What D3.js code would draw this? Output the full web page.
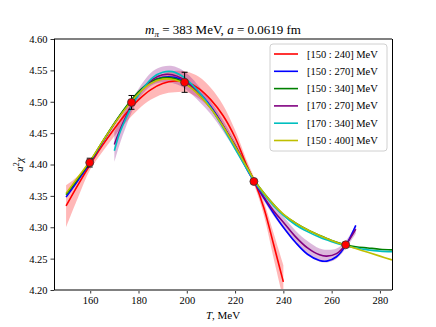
<!DOCTYPE html>
<html>
<head>
<meta charset="utf-8">
<script src="https://cdn.jsdelivr.net/npm/d3@7"></script>
<style>
  body { margin: 0; background: #fff; }
</style>
</head>
<body>
<div id="chart"></div>
<script>
const width = 436, height = 327;
const margin = {top: 39, right: 44, bottom: 37, left: 54};
const serif = "'Liberation Serif', 'Times New Roman', 'DejaVu Serif', serif";

// fit windows (legend labels)
const labels = ["[150 : 240] MeV", "[150 : 270] MeV", "[150 : 340] MeV", "[170 : 270] MeV", "[170 : 340] MeV", "[150 : 400] MeV"];
const colors = ["#ff0000", "#0000ff", "#008000", "#800080", "#00bfbf", "#bfbf00"];

// fit curves [T, a^2 chi]
const fit150_240 = [[150,4.334],[155,4.368],[160,4.400],[165,4.430],[170,4.457],[175,4.482],[180,4.503],[185,4.519],[190,4.529],[195,4.533],[200,4.531],[205,4.521],[210,4.503],[215,4.478],[220,4.443],[225,4.397],[228,4.373],[232,4.330],[236,4.272],[240,4.213]];
const fit150_270 = [[150,4.348],[155,4.375],[160,4.403],[165,4.435],[170,4.465],[175,4.492],[180,4.515],[185,4.531],[190,4.539],[195,4.539],[200,4.531],[205,4.515],[210,4.492],[215,4.462],[220,4.428],[225,4.392],[228,4.372],[232,4.346],[236,4.322],[240,4.300],[245,4.276],[250,4.257],[255,4.247],[258,4.246],[262,4.253],[266,4.272],[270,4.303]];
const fit150_340 = [[150,4.352],[155,4.378],[160,4.405],[165,4.436],[170,4.466],[175,4.493],[180,4.516],[185,4.532],[190,4.538],[195,4.537],[200,4.528],[205,4.512],[210,4.490],[215,4.461],[220,4.430],[225,4.395],[228,4.375],[232,4.354],[236,4.336],[240,4.320],[245,4.307],[250,4.296],[255,4.287],[260,4.279],[265,4.273],[270,4.269],[275,4.267],[280,4.265],[285,4.264]];
const fit170_270 = [[170,4.432],[172,4.452],[175,4.478],[178,4.500],[182,4.522],[186,4.536],[190,4.543],[194,4.543],[198,4.537],[202,4.525],[206,4.509],[210,4.490],[215,4.462],[220,4.430],[225,4.394],[228,4.373],[232,4.348],[236,4.326],[240,4.308],[245,4.285],[250,4.267],[255,4.256],[258,4.254],[262,4.258],[266,4.273],[270,4.297]];
const fit170_340 = [[170,4.422],[172,4.448],[175,4.475],[178,4.498],[182,4.522],[186,4.539],[190,4.547],[194,4.548],[198,4.541],[202,4.528],[206,4.511],[210,4.490],[215,4.459],[220,4.425],[225,4.392],[228,4.373],[232,4.352],[236,4.334],[240,4.319],[245,4.304],[250,4.293],[255,4.284],[260,4.277],[265,4.271],[270,4.267],[275,4.264],[280,4.262],[285,4.261]];
const fit150_400 = [[150,4.354],[155,4.380],[160,4.406],[165,4.436],[170,4.465],[175,4.491],[180,4.513],[185,4.529],[190,4.536],[195,4.535],[200,4.527],[205,4.511],[210,4.489],[215,4.461],[220,4.429],[225,4.395],[228,4.375],[232,4.354],[236,4.336],[240,4.321],[245,4.307],[250,4.296],[255,4.287],[260,4.279],[265,4.272],[270,4.266],[275,4.260],[280,4.254],[285,4.248]];

// error bands [T, low, high]
const band150_240 = [[150,4.300,4.367],[155,4.348,4.382],[160,4.392,4.408],[165,4.420,4.438],[170,4.445,4.466],[175,4.468,4.492],[180,4.488,4.515],[185,4.503,4.532],[190,4.512,4.544],[195,4.515,4.549],[200,4.515,4.548],[205,4.505,4.540],[210,4.488,4.522],[215,4.464,4.495],[220,4.432,4.455],[225,4.390,4.405],[228,4.366,4.378],[232,4.318,4.340],[236,4.250,4.290],[240,4.185,4.240]];
const band170_270 = [[170,4.404,4.452],[172,4.430,4.468],[175,4.462,4.490],[178,4.490,4.508],[182,4.514,4.532],[186,4.527,4.549],[190,4.531,4.556],[194,4.530,4.557],[198,4.524,4.551],[202,4.512,4.538],[206,4.497,4.520],[210,4.480,4.500],[215,4.453,4.471],[220,4.423,4.437],[225,4.389,4.399],[228,4.369,4.377],[232,4.342,4.354],[236,4.318,4.334],[240,4.298,4.317],[245,4.274,4.295],[250,4.257,4.278],[255,4.245,4.266],[258,4.244,4.264],[262,4.250,4.266],[266,4.267,4.279],[270,4.290,4.304]];

// lattice points
const pointT = [159.8, 177.1, 199.1, 227.8, 265.8];
const pointV = [4.403, 4.499, 4.531, 4.373, 4.272];
const pointErr = [0.007, 0.011, 0.016, 0.003, 0.003];

const xTicks = [160, 180, 200, 220, 240, 260, 280];
const yTicks = [4.20, 4.25, 4.30, 4.35, 4.40, 4.45, 4.50, 4.55, 4.60];

const fits = [fit150_240, fit150_270, fit150_340, fit170_270, fit170_340, fit150_400];

const svg = d3.select("#chart").append("svg").attr("width", width).attr("height", height)
  .style("font-family", serif);

const x = d3.scaleLinear().domain([145, 285]).range([margin.left, width - margin.right]);
const y = d3.scaleLinear().domain([4.20, 4.60]).range([height - margin.bottom, margin.top]);

svg.append("clipPath").attr("id", "clip").append("rect")
  .attr("x", margin.left).attr("y", margin.top)
  .attr("width", x.range()[1] - x.range()[0]).attr("height", y.range()[0] - y.range()[1]);

const plot = svg.append("g").attr("clip-path", "url(#clip)");

const area = d3.area().x(d => x(d[0])).y0(d => y(d[1])).y1(d => y(d[2])).curve(d3.curveCatmullRom);
const line = d3.line().x(d => x(d[0])).y(d => y(d[1])).curve(d3.curveCatmullRom);

plot.append("path").datum(band150_240).attr("d", area).attr("fill", "#ff0000").attr("fill-opacity", 0.28);
plot.append("path").datum(band170_270).attr("d", area).attr("fill", "#800080").attr("fill-opacity", 0.28);

fits.forEach((f, i) => {
  plot.append("path").datum(f).attr("d", line)
    .attr("fill", "none").attr("stroke", colors[i]).attr("stroke-width", 1.6);
});

// error bars + points
const pts = pointT.map((t, i) => ({t, v: pointV[i], e: pointErr[i]}));
const eb = svg.append("g").attr("stroke", "#000").attr("stroke-width", 1);
pts.forEach(d => {
  eb.append("line").attr("x1", x(d.t)).attr("x2", x(d.t)).attr("y1", y(d.v - d.e)).attr("y2", y(d.v + d.e));
  [d.v - d.e, d.v + d.e].forEach(v => {
    eb.append("line").attr("x1", x(d.t) - 3).attr("x2", x(d.t) + 3).attr("y1", y(v)).attr("y2", y(v));
  });
});
svg.append("g").selectAll("circle").data(pts).join("circle")
  .attr("cx", d => x(d.t)).attr("cy", d => y(d.v)).attr("r", 4)
  .attr("fill", "#ff0000").attr("stroke", "#333").attr("stroke-width", 0.8);

// axes
const xAxis = svg.append("g").attr("transform", `translate(0,${y.range()[0]})`)
  .call(d3.axisBottom(x).tickValues(xTicks).tickSize(3.5).tickPadding(3).tickFormat(d3.format("d")));
const yAxis = svg.append("g").attr("transform", `translate(${margin.left},0)`)
  .call(d3.axisLeft(y).tickValues(yTicks).tickSize(3.5).tickPadding(3).tickFormat(d3.format(".2f")));
[xAxis, yAxis].forEach(a => {
  a.attr("font-family", null).attr("font-size", null);
  a.select(".domain").remove();
  a.selectAll("text").style("font-family", serif).style("font-size", "10.5px");
  a.selectAll("line").attr("stroke", "#000").attr("stroke-width", 0.8);
});

// frame
const x0 = x.range()[0], x1 = x.range()[1], yb = y.range()[0], yt = y.range()[1];
svg.append("line").attr("x1", x0).attr("x2", x1).attr("y1", yt).attr("y2", yt).attr("stroke", "#808080").attr("stroke-width", 2);
svg.append("line").attr("x1", x0).attr("x2", x1).attr("y1", yb).attr("y2", yb).attr("stroke", "#808080").attr("stroke-width", 2);
svg.append("line").attr("x1", x0 + 0.5).attr("x2", x0 + 0.5).attr("y1", yt).attr("y2", yb).attr("stroke", "#000").attr("stroke-width", 1);
svg.append("line").attr("x1", x1 + 0.5).attr("x2", x1 + 0.5).attr("y1", yt).attr("y2", yb).attr("stroke", "#000").attr("stroke-width", 1);

// title
const title = svg.append("text").attr("x", (x0 + x1) / 2).attr("y", 34).attr("text-anchor", "middle")
  .style("font-family", serif).style("font-size", "13px");
title.append("tspan").attr("font-style", "italic").text("m");
title.append("tspan").attr("font-style", "italic").attr("font-size", 9).attr("dy", 3).text("π");
title.append("tspan").attr("dy", -3).text(" = 383 MeV, ");
title.append("tspan").attr("font-style", "italic").text("a");
title.append("tspan").text(" = 0.0619 fm");

// axis labels
const xl = svg.append("text").attr("x", (x0 + x1) / 2).attr("y", 319).attr("text-anchor", "middle")
  .style("font-family", serif).style("font-size", "11px");
xl.append("tspan").attr("font-style", "italic").text("T");
xl.append("tspan").text(", MeV");

const yl = svg.append("text").attr("transform", `translate(23,${(yt + yb) / 2}) rotate(-90)`).attr("text-anchor", "middle")
  .style("font-family", serif).style("font-size", "11px");
yl.append("tspan").attr("font-style", "italic").text("a");
yl.append("tspan").attr("font-size", 8).attr("dy", -4).text("2");
yl.append("tspan").attr("font-style", "italic").attr("dy", 4).text("χ");

// legend
const lg = svg.append("g").attr("transform", "translate(270,44)");
lg.append("rect").attr("width", 117).attr("height", 107).attr("rx", 3)
  .attr("fill", "#fff").attr("fill-opacity", 0.8).attr("stroke", "#d0d0d0").attr("stroke-width", 1);
labels.forEach((l, i) => {
  const yy = 10 + i * 17.3;
  lg.append("line").attr("x1", 4).attr("x2", 28).attr("y1", yy).attr("y2", yy)
    .attr("stroke", colors[i]).attr("stroke-width", 1.6);
  lg.append("text").attr("x", 37).attr("y", yy + 3.5)
    .style("font-family", serif).style("font-size", "10.5px").text(l);
});
</script>
</body>
</html>
